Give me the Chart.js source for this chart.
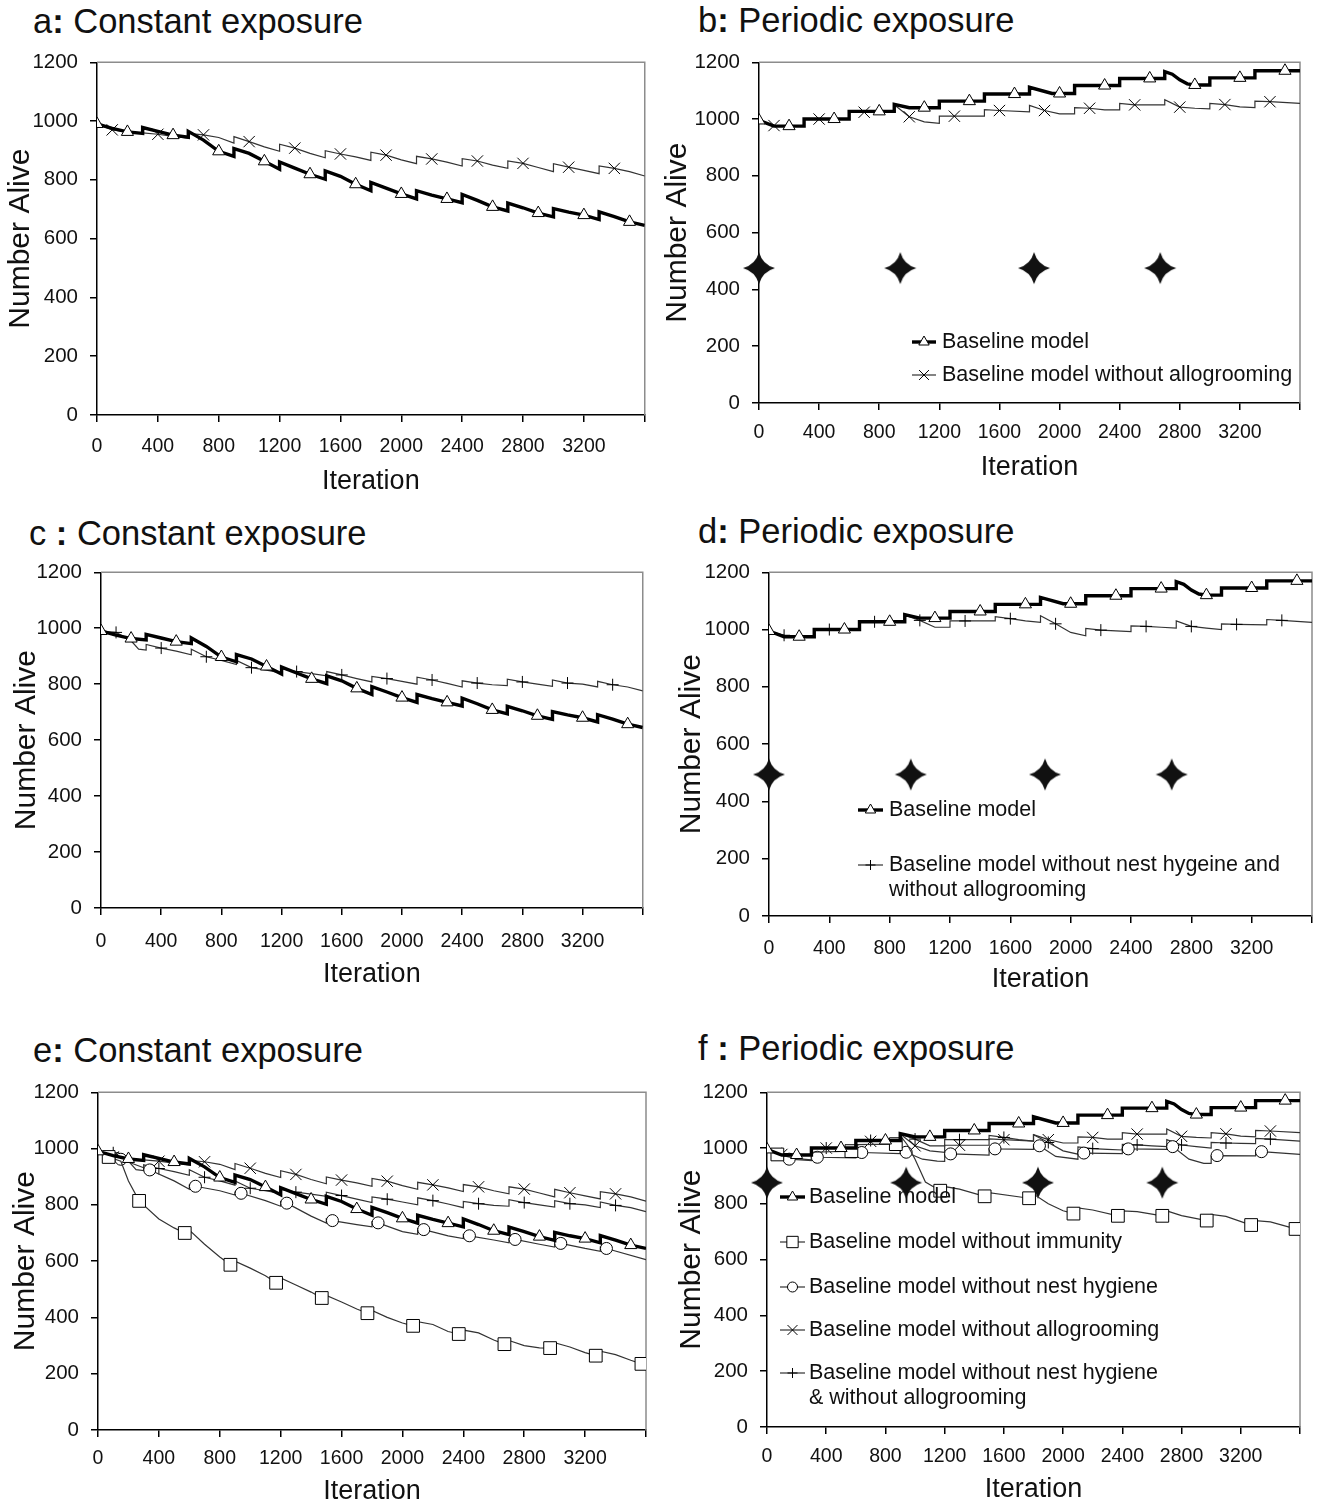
<!DOCTYPE html>
<html lang="en">
<head>
<meta charset="utf-8">
<title>Number alive under constant and periodic exposure</title>
<script src="https://cdn.jsdelivr.net/npm/chart.js@4.4.1/dist/chart.umd.min.js"></script>
<style>
  html, body { margin: 0; padding: 0; background: #fff; overflow: hidden; }
  body { position: relative; width: 1318px; height: 1505px; font-family: "Liberation Sans", Arial, sans-serif; }
  canvas { position: absolute; }
  .ptitle { position: absolute; font-size: 34.5px; line-height: 1; color: #111; white-space: nowrap; }
</style>
</head>
<body>
<div class="ptitle" style="left:33px;top:4px">a<b>:</b> Constant exposure</div>
<div class="ptitle" style="left:698px;top:3px">b<b>:</b> Periodic exposure</div>
<div class="ptitle" style="left:29px;top:516px">c <b>:</b> Constant exposure</div>
<div class="ptitle" style="left:698px;top:514px">d<b>:</b> Periodic exposure</div>
<div class="ptitle" style="left:33px;top:1033px">e<b>:</b> Constant exposure</div>
<div class="ptitle" style="left:698px;top:1031px">f <b>:</b> Periodic exposure</div>

<canvas id="chartA"></canvas>
<canvas id="chartB"></canvas>
<canvas id="chartC"></canvas>
<canvas id="chartD"></canvas>
<canvas id="chartE"></canvas>
<canvas id="chartF"></canvas>

<script>
// axis ticks
const xTickValues = [0, 400, 800, 1200, 1600, 2000, 2400, 2800, 3200, 3600];
const xTickLabels = ['0', '400', '800', '1200', '1600', '2000', '2400', '2800', '3200', ''];

// iterations at which the colony is exposed (periodic panels)
const exposureIters = [0, 940, 1830, 2670];

// ---- constant exposure ----
const constBaseX = [0,100,200,300,300,400,500,600,600,700,800,900,900,1000,1100,1200,1200,1300,1400,1500,1500,1600,1700,1800,1800,1900,2000,2100,2100,2200,2300,2400,2400,2500,2600,2700,2700,2800,2900,3000,3000,3100,3200,3300,3300,3400,3500,3600];
const constBaseY = [990,975,963,958,978,965,952,945,965,935,897,880,906,890,863,836,861,840,819,802,830,812,785,763,791,772,752,735,763,748,735,722,750,730,708,694,721,705,687,674,702,690,680,665,691,675,657,645];

const constImmX = [0,70,150,200,270,400,500,570,600,600,700,800,870,900,900,1000,1100,1170,1200,1200,1300,1400,1470,1500,1500,1600,1700,1770,1800,1800,1900,2000,2070,2100,2100,2200,2300,2370,2400,2400,2500,2600,2670,2700,2700,2800,2900,2970,3000,3000,3100,3200,3270,3300,3300,3400,3500,3570,3600];
const constImmY = [990,970,955,885,814,750,718,700,698,710,660,615,587,585,600,575,548,523,520,540,515,490,469,465,478,455,430,415,412,425,400,380,370,368,385,375,350,341,340,355,345,320,305,302,318,300,292,291,288,310,295,275,264,262,280,268,248,235,230];

const constHygX = [0,150,340,500,600,600,640,800,900,900,940,1100,1200,1200,1240,1400,1500,1500,1540,1700,1800,1800,1840,2000,2100,2100,2140,2300,2400,2400,2440,2600,2700,2700,2740,2900,3000,3000,3040,3200,3300,3300,3340,3600];
const constHygY = [990,962,924,885,855,870,866,850,835,845,841,815,795,812,806,760,735,750,744,730,722,740,736,705,695,715,712,690,680,695,690,675,665,680,677,660,650,668,663,645,635,650,645,605];

const constAlloX = [0,100,200,300,400,500,600,600,700,800,900,900,1000,1100,1200,1200,1300,1400,1500,1500,1600,1700,1800,1800,1900,2000,2100,2100,2200,2300,2400,2400,2500,2600,2700,2700,2800,2900,3000,3000,3100,3200,3300,3300,3400,3500,3600];
const constAlloY = [990,970,963,960,955,948,942,958,953,944,925,947,930,912,897,921,908,890,875,899,888,878,866,894,884,868,855,880,871,860,847,872,864,850,839,864,856,842,828,855,843,832,821,847,839,828,813];

const constBothX = [0,100,200,250,300,300,400,500,600,600,700,800,900,900,1000,1100,1200,1200,1300,1400,1500,1500,1600,1700,1800,1800,1900,2000,2100,2100,2200,2300,2400,2400,2500,2600,2700,2700,2800,2900,3000,3000,3100,3200,3300,3300,3400,3500,3600];
const constBothY = [990,985,955,925,922,942,929,918,905,925,898,885,870,885,859,850,840,855,845,838,830,845,833,820,808,828,820,810,800,825,815,803,790,812,804,798,795,818,808,800,792,815,804,800,790,810,798,790,776];

// ---- periodic exposure ----
const perBaseX = [0,100,200,300,300,500,600,600,800,900,900,1000,1100,1200,1200,1400,1500,1500,1700,1800,1800,1950,2000,2100,2100,2300,2400,2400,2600,2700,2700,2750,2800,2850,2900,3000,3000,3200,3300,3300,3500,3600];
const perBaseY = [995,975,975,975,1000,1000,1000,1027,1027,1027,1052,1040,1040,1040,1063,1063,1063,1088,1088,1088,1112,1090,1090,1090,1118,1118,1118,1143,1143,1143,1167,1158,1138,1124,1120,1120,1145,1145,1145,1170,1170,1170];

const perImmX = [0,70,200,300,300,570,600,600,870,900,900,950,1000,1070,1170,1200,1200,1300,1470,1500,1500,1770,1800,1800,1900,2000,2070,2100,2100,2200,2370,2400,2400,2500,2670,2700,2700,2800,2970,3000,3000,3100,3270,3300,3300,3400,3570,3600];
const perImmY = [995,977,962,958,985,989,990,1012,1014,1015,1045,1010,960,878,847,845,862,853,827,826,840,820,818,835,800,775,765,763,785,778,757,756,775,772,757,756,775,758,740,740,762,755,724,724,740,735,710,706];

const perHygX = [0,150,300,300,340,600,600,640,900,900,940,1050,1150,1200,1200,1240,1500,1500,1540,1800,1800,1840,1950,2100,2100,2140,2400,2400,2440,2700,2700,2740,2850,2950,3000,3000,3040,3300,3300,3340,3600];
const perHygY = [995,960,955,968,967,965,983,984,980,990,985,960,953,952,978,979,975,998,997,995,1010,1008,970,960,982,982,980,998,997,995,1010,1005,960,945,945,972,973,972,990,987,977];

const perAlloX = [0,100,300,300,400,600,600,700,900,900,1000,1100,1200,1200,1300,1500,1500,1600,1800,1800,1900,2000,2100,2100,2200,2300,2400,2400,2500,2700,2700,2800,2900,3000,3000,3100,3200,3300,3300,3400,3600];
const perAlloY = [995,977,975,1000,1000,1000,1024,1024,1024,1050,1008,990,985,1010,1010,1010,1033,1030,1025,1048,1030,1018,1018,1040,1038,1032,1032,1055,1050,1050,1068,1042,1038,1036,1055,1051,1043,1040,1063,1061,1055];

const perBothX = [0,100,300,300,400,600,600,700,900,900,1000,1100,1200,1200,1300,1500,1500,1600,1700,1800,1800,1900,2000,2100,2100,2200,2300,2400,2400,2500,2600,2700,2700,2800,2900,3000,3000,3100,3200,3300,3300,3400,3600];
const perBothY = [995,980,975,1000,1000,1000,1027,1027,1027,1050,1032,1008,1008,1030,1030,1030,1045,1038,1030,1025,1048,1020,990,978,1004,998,995,993,1013,1011,1008,1005,1030,1011,1005,1000,1020,1018,1017,1016,1035,1032,1025];

// iterations that carry a marker symbol
const triMarks = [0,200,500,800,1100,1400,1700,2000,2300,2600,2900,3200,3500];
const crossMarks = [100,400,700,1000,1300,1600,1900,2200,2500,2800,3100,3400];
const plusMarks = [100,400,700,1000,1300,1600,1900,2200,2500,2800,3100,3400];
const circleMarks = [150,340,640,940,1240,1540,1840,2140,2440,2740,3040,3340];
const squareConstMarks = [70,270,570,870,1170,1470,1770,2070,2370,2670,2970,3270,3570];
const squarePerMarks = [70,570,870,1170,1470,1770,2070,2370,2670,2970,3270,3570];

const FONT = '"Liberation Sans", Arial, sans-serif';
Chart.defaults.font.family = FONT;
Chart.defaults.color = '#111';

function series(label, xs, ys, thick, pointStyle, radius, marks) {
  return {
    label: label,
    data: xs.map((x, i) => ({x: x, y: ys[i]})),
    borderColor: thick ? '#000' : '#333',
    borderWidth: thick ? 3.4 : 1.2,
    tension: 0,
    fill: false,
    pointStyle: pointStyle,
    pointRadius: ctx => (ctx.raw && marks.includes(ctx.raw.x)) ? radius : 0,
    pointHoverRadius: 0,
    pointBackgroundColor: '#fff',
    pointBorderColor: '#000',
    pointBorderWidth: 1,
    legendRadius: radius
  };
}

function makeStar(size) {
  const c = document.createElement('canvas');
  c.width = c.height = size;
  const g = c.getContext('2d');
  const m = size / 2, r = size / 2 - 1, k = 3.5;
  g.fillStyle = '#111';
  g.beginPath();
  g.moveTo(m, m - r);
  g.quadraticCurveTo(m + k, m - k, m + r, m);
  g.quadraticCurveTo(m + k, m + k, m, m + r);
  g.quadraticCurveTo(m - k, m + k, m - r, m);
  g.quadraticCurveTo(m - k, m - k, m, m - r);
  g.fill();
  return c;
}
const starImg = makeStar(34);

function stars(level) {
  return {
    label: '',
    data: exposureIters.map(x => ({x: x, y: level})),
    showLine: false,
    pointStyle: starImg,
    pointRadius: 17,
    pointHoverRadius: 17,
    clip: false
  };
}

const baseLabel = 'Baseline model';
const immLabel = 'Baseline model without immunity';
const hygLabel = 'Baseline model without nest hygiene';
const alloLabel = 'Baseline model without allogrooming';
const bothLabelD = 'Baseline model without nest hygeine and\nwithout allogrooming';
const bothLabelF = 'Baseline model without nest hygiene\n& without allogrooming';

// top and right frame of the plot, in grey
const framePlugin = {
  id: 'frame',
  beforeDatasetsDraw(chart) {
    const {ctx, chartArea: a} = chart;
    ctx.save();
    ctx.strokeStyle = '#8c8c8c';
    ctx.lineWidth = 1.5;
    ctx.beginPath();
    ctx.moveTo(a.left, a.top);
    ctx.lineTo(a.right, a.top);
    ctx.lineTo(a.right, a.bottom);
    ctx.stroke();
    ctx.restore();
  }
};

// legend drawn inside the plot, line sample with marker
const boxLegend = {
  id: 'boxLegend',
  afterDatasetsDraw(chart, args, opts) {
    if (!opts.rows) return;
    const ctx = chart.ctx;
    ctx.save();
    ctx.font = '21.5px ' + FONT;
    ctx.textBaseline = 'middle';
    chart.data.datasets.forEach((ds, i) => {
      if (!ds.legendRadius || opts.rows[i] == null) return;
      const y = opts.rows[i];
      ctx.strokeStyle = ds.borderColor;
      ctx.lineWidth = ds.borderWidth;
      ctx.beginPath();
      ctx.moveTo(opts.x0, y);
      ctx.lineTo(opts.x1, y);
      ctx.stroke();
      ctx.fillStyle = '#fff';
      ctx.strokeStyle = '#000';
      ctx.lineWidth = 1;
      Chart.helpers.drawPoint(ctx, {pointStyle: ds.pointStyle, radius: ds.legendRadius - 1, borderWidth: 1, rotation: 0}, (opts.x0 + opts.x1) / 2, y);
      ctx.fillStyle = '#111';
      ds.label.split('\n').forEach((line, j) => ctx.fillText(line, opts.textX, y + j * opts.lineGap));
    });
    ctx.restore();
  }
};

function makePanel(p) {
  const [bl, bt, bw, bh] = p.box;
  const [pl, pt, pr, pb] = p.plot;
  const canvas = document.getElementById(p.id);
  canvas.width = bw;
  canvas.height = bh;
  canvas.style.left = bl + 'px';
  canvas.style.top = bt + 'px';
  const TL = 7;
  const legendOpts = p.legend ? {
    x0: p.legend.x0 - bl, x1: p.legend.x1 - bl, textX: p.legend.textX - bl,
    rows: p.legend.rows.map(r => r == null ? null : r - bt), lineGap: 25
  } : {};
  return new Chart(canvas, {
    type: 'line',
    data: {datasets: p.datasets},
    options: {
      responsive: false,
      animation: false,
      events: [],
      layout: {padding: {top: pt - bt, right: bl + bw - pr, left: 0, bottom: 0}},
      plugins: {
        legend: {display: false},
        tooltip: {enabled: false},
        boxLegend: legendOpts
      },
      scales: {
        x: {
          type: 'linear', min: 0, max: 3600,
          afterBuildTicks: s => { s.ticks = xTickValues.map(v => ({value: v})); },
          afterFit: s => { s.height = bt + bh - pb; },
          grid: {display: true, drawOnChartArea: false, drawTicks: true, tickLength: TL, color: '#000', lineWidth: 1.5},
          border: {display: true, color: '#000', width: 1.5},
          ticks: {
            autoSkip: false, maxRotation: 0, color: '#111',
            font: {size: 19.5, lineHeight: 1},
            padding: p.tickY - pb - TL - 9.75,
            callback: (v, i) => xTickLabels[i]
          },
          title: {
            display: true, text: 'Iteration', color: '#111',
            font: {size: 27, lineHeight: 1},
            padding: {top: 0, bottom: Math.max(0, bt + bh - p.titleY - 13.5)}
          }
        },
        y: {
          min: 0, max: 1200,
          afterFit: s => { s.width = pl - bl; },
          grid: {display: true, drawOnChartArea: false, drawTicks: true, tickLength: TL, color: '#000', lineWidth: 1.5},
          border: {display: true, color: '#000', width: 1.5},
          ticks: {
            stepSize: 200, color: '#111', padding: 12,
            font: {size: 20.5, lineHeight: 1},
            callback: v => String(v)
          },
          title: {
            display: true, text: 'Number Alive', color: '#111',
            font: {size: 30, lineHeight: 1},
            padding: {top: Math.max(0, p.yTitleX - bl - 15), bottom: 0}
          }
        }
      }
    },
    plugins: [framePlugin, boxLegend]
  });
}

makePanel({
  id: 'chartA', box: [0, 40, 660, 470], plot: [97, 56, 646, 415],
  tickY: 447, titleY: 482, yTitleX: 21,
  datasets: [
    series(baseLabel, constBaseX, constBaseY, true, 'triangle', 7, triMarks),
    series(alloLabel, constAlloX, constAlloY, false, 'crossRot', 8, crossMarks)
  ]
});

makePanel({
  id: 'chartB', box: [660, 40, 658, 460], plot: [759, 53, 1312, 403],
  tickY: 433, titleY: 468, yTitleX: 678,
  datasets: [
    series(baseLabel, perBaseX, perBaseY, true, 'triangle', 7, triMarks),
    series(alloLabel, perAlloX, perAlloY, false, 'crossRot', 8, crossMarks),
    stars(475)
  ],
  legend: {x0: 912, x1: 936, textX: 942, rows: [342, 375]}
});

makePanel({
  id: 'chartC', box: [0, 550, 660, 450], plot: [101, 568, 646, 908],
  tickY: 942, titleY: 975, yTitleX: 27,
  datasets: [
    series(baseLabel, constBaseX, constBaseY, true, 'triangle', 7, triMarks),
    series(bothLabelD, constBothX, constBothY, false, 'cross', 6, plusMarks)
  ]
});

makePanel({
  id: 'chartD', box: [660, 550, 670, 450], plot: [769, 567, 1321, 916],
  tickY: 949, titleY: 980, yTitleX: 692,
  datasets: [
    series(baseLabel, perBaseX, perBaseY, true, 'triangle', 7, triMarks),
    series(bothLabelD, perBothX, perBothY, false, 'cross', 6, plusMarks),
    stars(494)
  ],
  legend: {x0: 858, x1: 883, textX: 889, rows: [810, 865]}
});

makePanel({
  id: 'chartE', box: [0, 1070, 660, 435], plot: [98, 1086, 646, 1430],
  tickY: 1459, titleY: 1492, yTitleX: 26,
  datasets: [
    series(baseLabel, constBaseX, constBaseY, true, 'triangle', 7, triMarks),
    series(immLabel, constImmX, constImmY, false, 'rect', 9, squareConstMarks),
    series(hygLabel, constHygX, constHygY, false, 'circle', 6, circleMarks),
    series(alloLabel, constAlloX, constAlloY, false, 'crossRot', 8, crossMarks),
    series(bothLabelF, constBothX, constBothY, false, 'cross', 6, plusMarks)
  ]
});

makePanel({
  id: 'chartF', box: [660, 1070, 658, 435], plot: [767, 1084, 1313, 1427],
  tickY: 1457, titleY: 1490, yTitleX: 692,
  datasets: [
    series(baseLabel, perBaseX, perBaseY, true, 'triangle', 7, triMarks),
    series(immLabel, perImmX, perImmY, false, 'rect', 9, squarePerMarks),
    series(hygLabel, perHygX, perHygY, false, 'circle', 6, circleMarks),
    series(alloLabel, perAlloX, perAlloY, false, 'crossRot', 8, crossMarks),
    series(bothLabelF, perBothX, perBothY, false, 'cross', 6, plusMarks),
    stars(876)
  ],
  legend: {x0: 780, x1: 805, textX: 809, rows: [1197, 1242, 1287, 1330, 1373]}
});
</script>
</body>
</html>
